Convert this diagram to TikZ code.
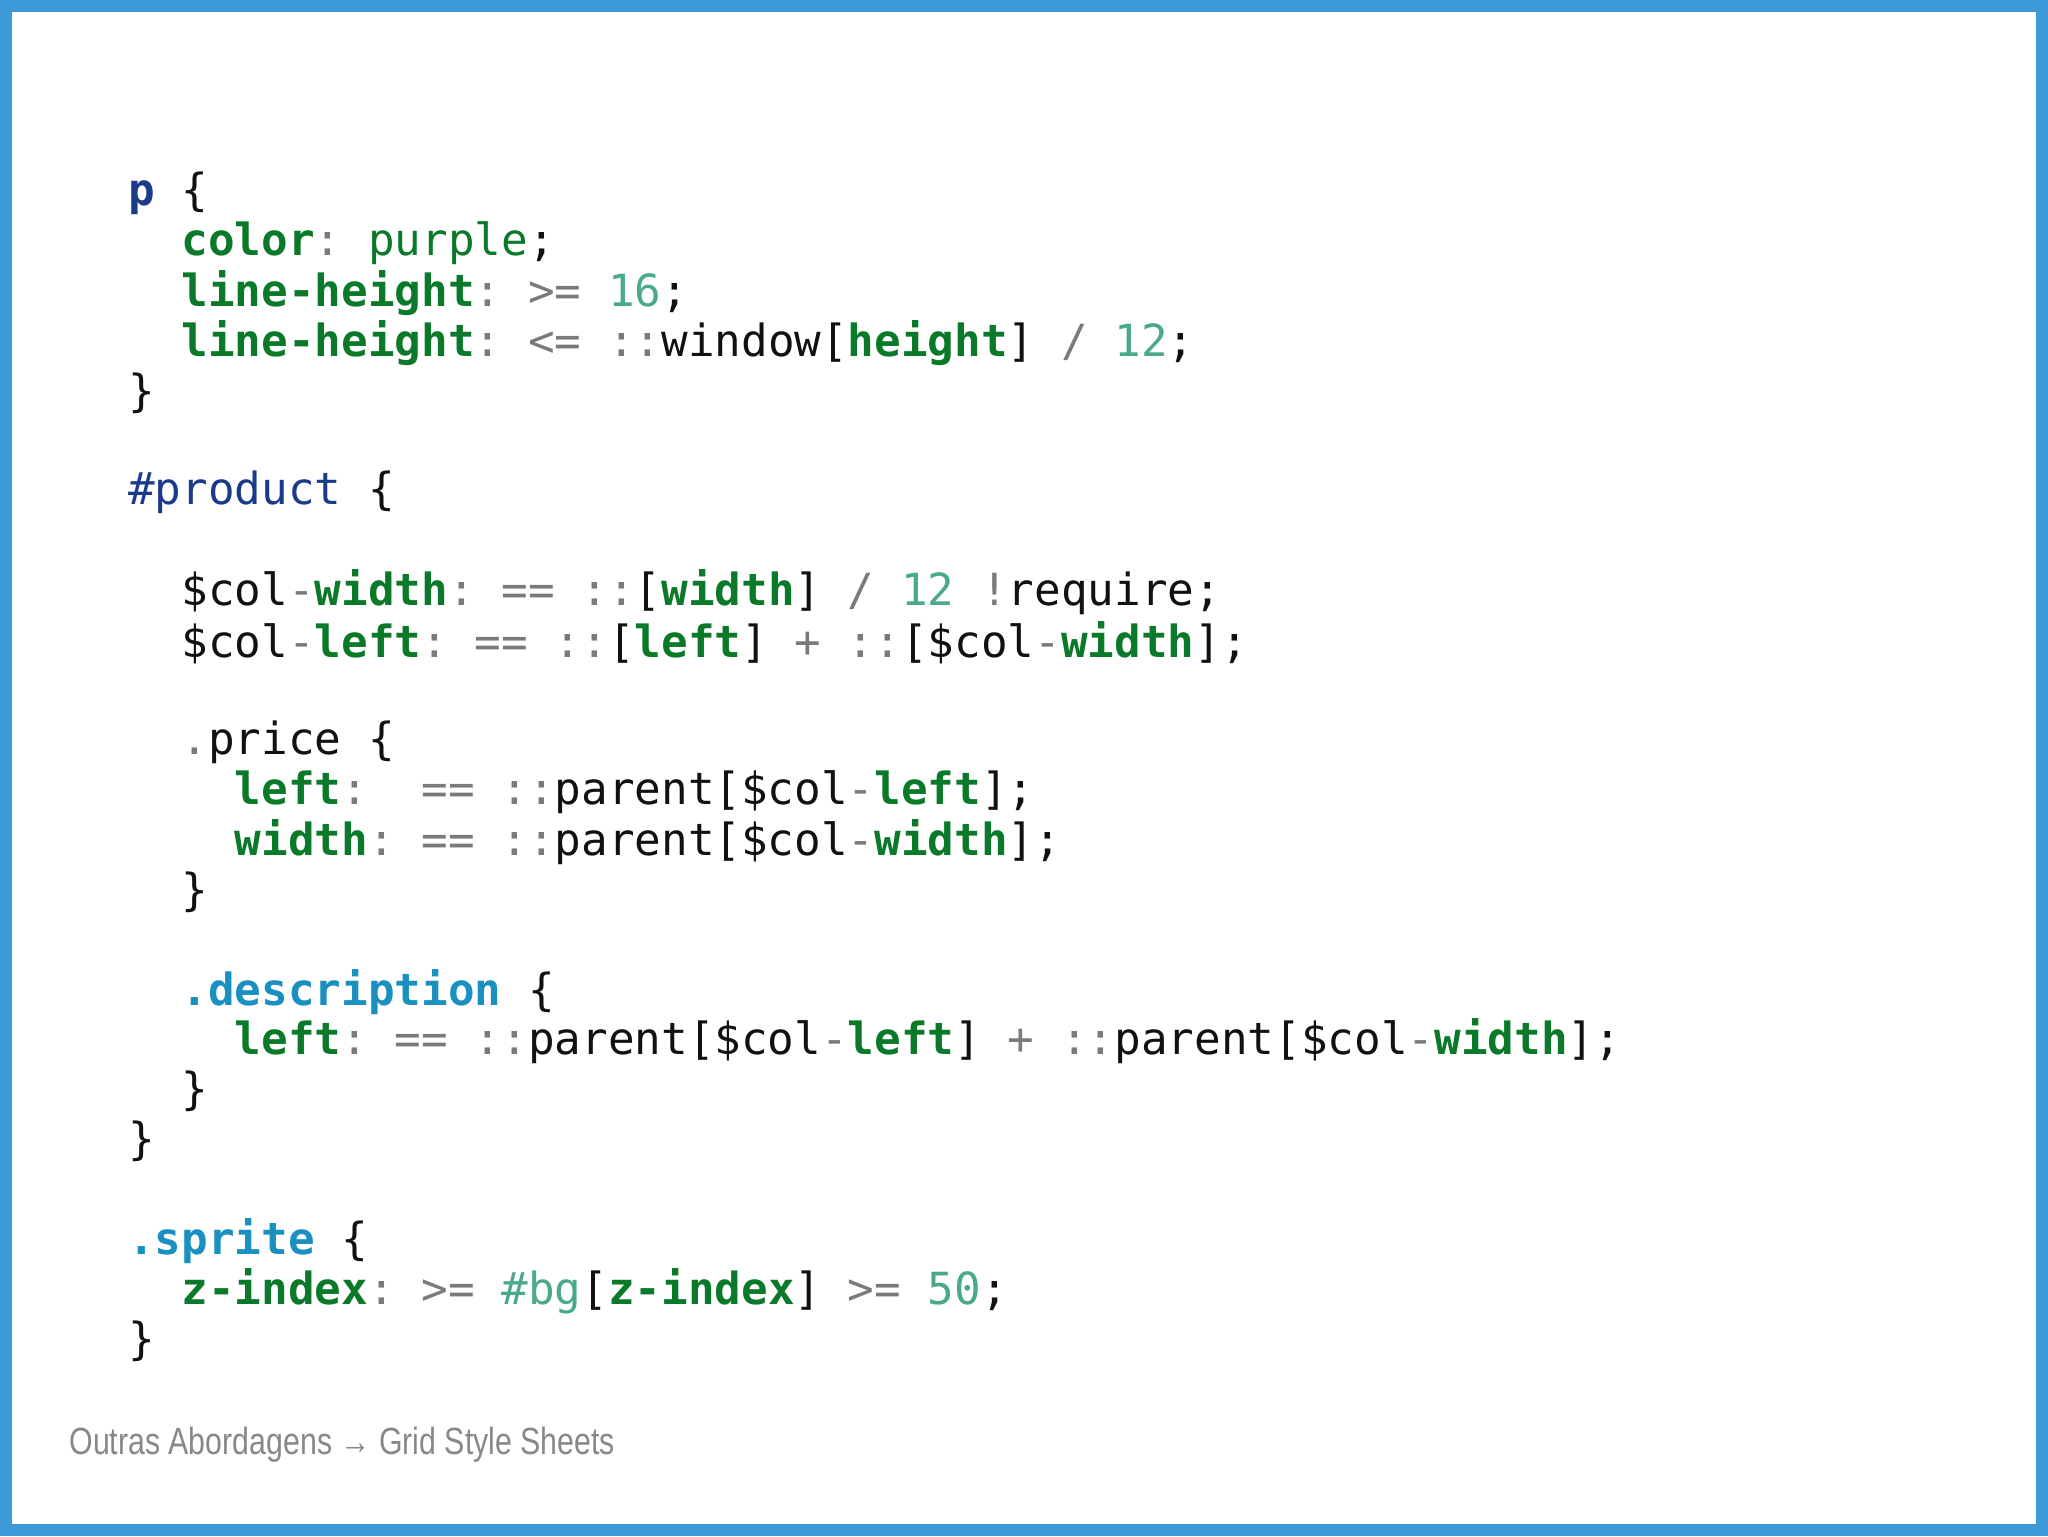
\documentclass[tikz,border=0pt]{standalone}
\usepackage{fontspec}
\setmonofont{DejaVu Sans Mono}
\setsansfont{Liberation Sans}
\definecolor{frame}{HTML}{3D9AD9}
\definecolor{selb}{HTML}{1A3A8A}
\definecolor{kwg}{HTML}{0A7A2A}
\definecolor{opg}{HTML}{7A7A7A}
\definecolor{nmg}{HTML}{4AAA88}
\definecolor{cyb}{HTML}{1A90C0}
\definecolor{txt}{HTML}{111111}
\definecolor{foot}{HTML}{888888}
\newcommand{\kw}[1]{\textcolor{kwg}{\bfseries #1}}
\newcommand{\op}[1]{\textcolor{opg}{#1}}
\newcommand{\nm}[1]{\textcolor{nmg}{#1}}
\tikzset{codeline/.style={anchor=west,inner sep=0pt,font=\fontsize{33.9}{40}\ttfamily,text=txt}}
\begin{document}
\begin{tikzpicture}[x=1pt,y=-1pt]
\useasboundingbox (0,0) rectangle (1568,1176);
\fill[white] (0,0) rectangle (1568,1176);
\draw[frame,line width=9pt] (4.5,4.5) rectangle (1563.5,1171.5);
\def\cw{20.4}
\def\lh{38.2}
\node[codeline] (l0) at (98+0*\cw,148+0*\lh) {\textcolor{selb}{\bfseries p} \{};
\node[codeline] (l1) at (98+2*\cw,148+1*\lh) {\kw{color}\op{:} \textcolor{kwg}{purple};};
\node[codeline] (l2) at (98+2*\cw,148+2*\lh) {\kw{line-height}\op{: >=} \nm{16};};
\node[codeline] (l3) at (98+2*\cw,148+3*\lh) {\kw{line-height}\op{: <= ::}window[\kw{height}] \op{/} \nm{12};};
\node[codeline] (l4) at (98+0*\cw,148+4*\lh) {\}};
\node[codeline] (l6) at (98+0*\cw,148+6*\lh) {\textcolor{selb}{\#product} \{};
\node[codeline] (l8) at (98+2*\cw,148+8*\lh) {\$col\op{-}\kw{width}\op{: == ::}[\kw{width}] \op{/} \nm{12} \op{!}require;};
\node[codeline] (l9) at (98+2*\cw,148+9*\lh) {\$col\op{-}\kw{left}\op{: == ::}[\kw{left}] \op{+ ::}[\$col\op{-}\kw{width}];};
\node[codeline] (l11) at (98+2*\cw,148+11*\lh) {\op{.}price \{};
\node[codeline] (l12) at (98+4*\cw,148+12*\lh) {\kw{left}\op{:\ \ == ::}parent[\$col\op{-}\kw{left}];};
\node[codeline] (l13) at (98+4*\cw,148+13*\lh) {\kw{width}\op{: == ::}parent[\$col\op{-}\kw{width}];};
\node[codeline] (l14) at (98+2*\cw,148+14*\lh) {\}};
\node[codeline] (l16) at (98+2*\cw,148+16*\lh) {\textcolor{cyb}{\bfseries .description} \{};
\node[codeline] (l17) at (98+4*\cw,148+17*\lh) {\kw{left}\op{: == ::}parent[\$col\op{-}\kw{left}] \op{+ ::}parent[\$col\op{-}\kw{width}];};
\node[codeline] (l18) at (98+2*\cw,148+18*\lh) {\}};
\node[codeline] (l19) at (98+0*\cw,148+19*\lh) {\}};
\node[codeline] (l21) at (98+0*\cw,148+21*\lh) {\textcolor{cyb}{\bfseries .sprite} \{};
\node[codeline] (l22) at (98+2*\cw,148+22*\lh) {\kw{z-index}\op{: >=} \nm{\#bg}[\kw{z-index}] \op{>=} \nm{50};};
\node[codeline] (l23) at (98+0*\cw,148+23*\lh) {\}};
\node[anchor=west,inner sep=0pt,text=foot,font=\fontsize{29}{34}\sffamily,xscale=0.8,transform shape] (foot) at (53,1106) {Outras Abordagens → Grid Style Sheets};
\end{tikzpicture}
\end{document}
